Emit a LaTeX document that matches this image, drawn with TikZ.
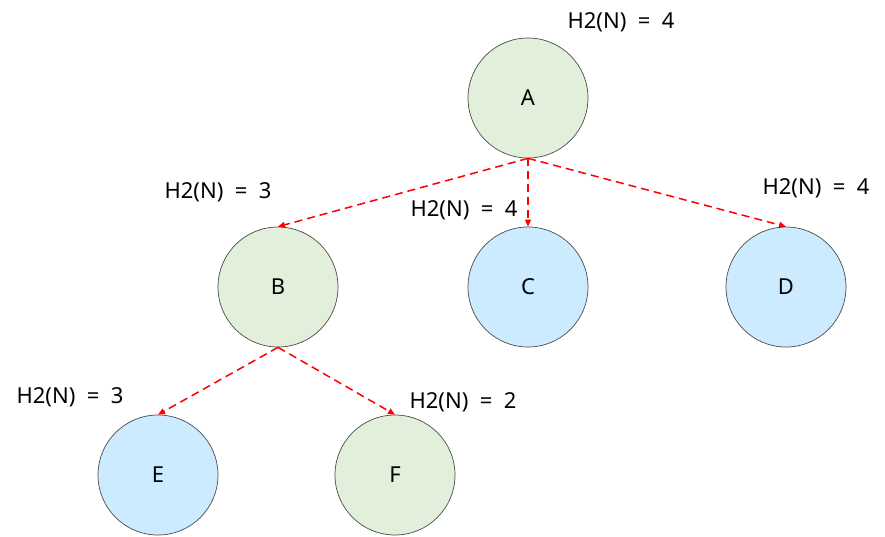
\documentclass[tikz,border=0pt]{standalone}
\usepackage{fontspec}
\setmainfont{Noto Sans}
\usetikzlibrary{arrows.meta}
\definecolor{LeafGreen}{HTML}{E2EFDA}
\definecolor{SkyBlue}{HTML}{CCEBFF}

\begin{document}
\begin{tikzpicture}[x=1pt, y=-1pt, >={Triangle[length=7pt,width=6pt]},
  state/.style={circle, draw=black!70, line width=0.7pt, minimum size=120pt,
    inner sep=0pt, font=\fontsize{22}{26}\selectfont},
  open/.style={state, fill=LeafGreen},
  leaf/.style={state, fill=SkyBlue},
  hval/.style={font=\fontsize{22}{26}\selectfont, inner sep=0pt},
  expand/.style={red, dashed, dash pattern=on 8pt off 5pt, line width=1.5pt, ->}]
\useasboundingbox (0,0) rectangle (885,536);

\node[open] (a) at (528,98) {A};
\node[open] (b) at (278,287) {B};
\node[leaf] (c) at (528,287) {C};
\node[leaf] (d) at (786,287) {D};
\node[leaf] (e) at (158,475) {E};
\node[open] (f) at (395,475) {F};

\node[hval] (ha) at (621,22) {H2(N)~~=~~4};
\node[hval] (hb) at (218,192) {H2(N)~~=~~3};
\node[hval] (hc) at (464,210) {H2(N)~~=~~4};
\node[hval] (hd) at (816,188) {H2(N)~~=~~4};
\node[hval] (he) at (70,397) {H2(N)~~=~~3};
\node[hval] (hf) at (463,402) {H2(N)~~=~~2};

\foreach \t in {b,c,d}
  \draw[expand] (a.south) -- (\t.north);
\foreach \t in {e,f}
  \draw[expand] (b.south) -- (\t.north);

\end{tikzpicture}
\end{document}
